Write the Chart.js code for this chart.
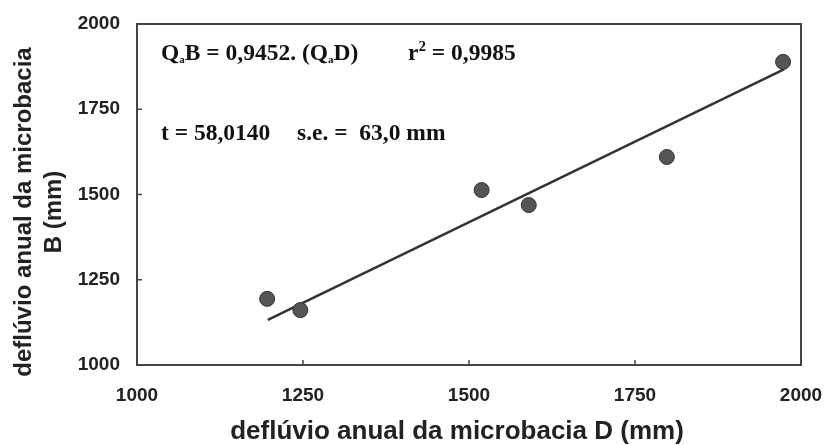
<!DOCTYPE html>
<html>
<head>
<meta charset="utf-8">
<script src="https://cdn.jsdelivr.net/npm/chart.js@4"></script>
<style>
  html, body { margin: 0; padding: 0; background: #fff; }
  #wrap { width: 827px; height: 445px; }
</style>
</head>
<body>
<div id="wrap"><canvas id="chart" width="827" height="445"></canvas></div>
<script>
// observed annual runoff, catchment D (x) vs catchment B (y), mm
const runoffD = [1196, 1246, 1519, 1590, 1798, 1973];
const runoffB = [1194, 1161, 1513, 1469, 1610, 1889];
// fitted line endpoints
const fitD = [1197, 1975];
const fitB = [1132, 1868];
const axisTicks = [1000, 1250, 1500, 1750, 2000];

const xTitle = 'deflúvio anual da microbacia D (mm)';
const yTitle = ['deflúvio anual da microbacia', 'B (mm)'];

// frame, inward ticks, titles and regression text
const decorPlugin = {
    id: 'decor',
    afterDraw(chart) {
        const { ctx, chartArea: a, scales } = chart;
        ctx.save();
        ctx.strokeStyle = '#444';
        ctx.lineWidth = 2;
        ctx.strokeRect(a.left, a.top, a.right - a.left, a.bottom - a.top);

        ctx.lineWidth = 1.5;
        axisTicks.slice(1, -1).forEach(v => {
            const x = scales.x.getPixelForValue(v);
            ctx.beginPath();
            ctx.moveTo(x, a.bottom);
            ctx.lineTo(x, a.bottom - 5);
            ctx.stroke();
            const y = scales.y.getPixelForValue(v);
            ctx.beginPath();
            ctx.moveTo(a.left, y);
            ctx.lineTo(a.left + 5, y);
            ctx.stroke();
        });

        // axis titles
        ctx.fillStyle = '#222';
        ctx.font = 'bold 26px "Liberation Sans", Arial, sans-serif';
        ctx.textAlign = 'center';
        ctx.textBaseline = 'middle';
        ctx.fillText(xTitle, 457, 432);

        ctx.save();
        ctx.translate(24, 212);
        ctx.rotate(-Math.PI / 2);
        ctx.font = 'bold 24px "Liberation Sans", Arial, sans-serif';
        ctx.fillText(yTitle[0], 0, 0);
        ctx.translate(0, 30);
        ctx.fillText(yTitle[1], 0, 0);
        ctx.restore();

        // regression statistics
        ctx.fillStyle = '#111';
        ctx.textAlign = 'left';
        ctx.textBaseline = 'alphabetic';
        const big = 'bold 23.5px "Liberation Serif", "Times New Roman", serif';
        const sub = 'bold 11px "Liberation Serif", "Times New Roman", serif';
        const sup = 'bold 15px "Liberation Serif", "Times New Roman", serif';
        const pieces = (x, y, parts) => {
            parts.forEach(([txt, kind]) => {
                ctx.font = kind === 'sub' ? sub : kind === 'sup' ? sup : big;
                const dy = kind === 'sub' ? 3 : kind === 'sup' ? -9 : 0;
                ctx.fillText(txt, x, y + dy);
                x += ctx.measureText(txt).width;
            });
        };
        pieces(161, 60, [['Q'], ['a', 'sub'], ['B = 0,9452. (Q'], ['a', 'sub'], ['D)']]);
        pieces(408, 60, [['r'], ['2', 'sup'], [' = 0,9985']]);
        pieces(161, 140, [['t = 58,0140']]);
        pieces(297, 140, [['s.e. =  63,0 mm']]);
        ctx.restore();
    }
};

const tickFont = { family: '"Liberation Sans", Arial, sans-serif', size: 19, weight: 'bold' };

new Chart(document.getElementById('chart'), {
    type: 'scatter',
    data: {
        datasets: [
            {
                label: 'observado',
                data: runoffD.map((d, i) => ({ x: d, y: runoffB[i] })),
                pointRadius: 7.5,
                pointBackgroundColor: '#555',
                pointBorderColor: '#333',
                pointBorderWidth: 1
            },
            {
                label: 'ajuste',
                type: 'line',
                data: fitD.map((d, i) => ({ x: d, y: fitB[i] })),
                borderColor: '#333',
                borderWidth: 2.5,
                pointRadius: 0,
                fill: false
            }
        ]
    },
    options: {
        responsive: false,
        animation: false,
        layout: { padding: { left: 0, right: 26, top: 24, bottom: 0 } },
        plugins: {
            legend: { display: false },
            tooltip: { enabled: false }
        },
        scales: {
            x: {
                type: 'linear',
                min: 1000,
                max: 2000,
                afterFit: scale => {
                    scale.height = 80;
                    scale.paddingLeft = 0;
                    scale.paddingRight = 0;
                },
                afterBuildTicks: scale => { scale.ticks = axisTicks.map(v => ({ value: v })); },
                grid: { display: false, drawTicks: false },
                border: { display: false },
                ticks: { padding: 19, color: '#222', font: tickFont, callback: v => String(v) }
            },
            y: {
                type: 'linear',
                min: 1000,
                max: 2000,
                afterFit: scale => {
                    scale.width = 137;
                    scale.paddingTop = 0;
                    scale.paddingBottom = 0;
                },
                afterBuildTicks: scale => { scale.ticks = axisTicks.map(v => ({ value: v })); },
                grid: { display: false, drawTicks: false },
                border: { display: false },
                ticks: { padding: 17, color: '#222', font: tickFont, callback: v => String(v) }
            }
        }
    },
    plugins: [decorPlugin]
});
</script>
</body>
</html>
